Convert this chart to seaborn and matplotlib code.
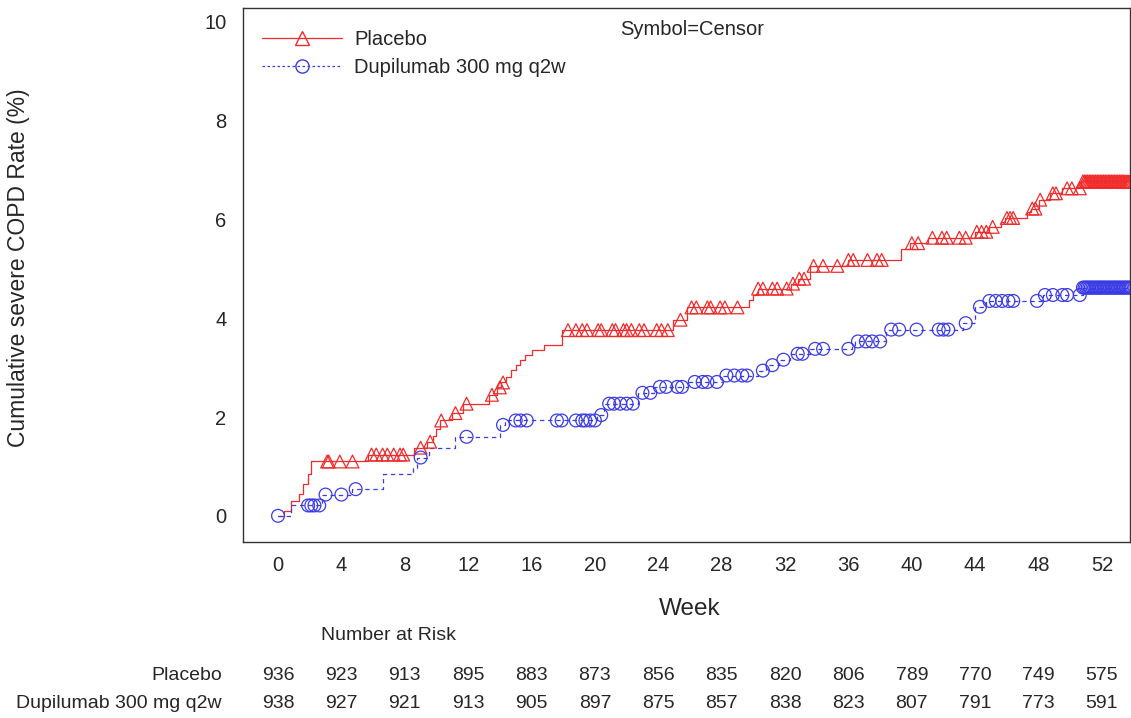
import numpy as np
import pandas as pd
import matplotlib
matplotlib.use("Agg")
import matplotlib.pyplot as plt
from matplotlib.lines import Line2D
import matplotlib.transforms as mtransforms
import seaborn as sns

# ---- Cumulative incidence step curves (week, cumulative %) ----
placebo_weeks = [0.0, 0.4, 0.8, 1.3, 1.6, 1.9, 2.1, 5.7, 8.6, 9.4, 9.8, 10.0, 10.2,
                 11.0, 11.7, 13.3, 13.8, 14.1, 14.4, 14.7, 15.0, 15.3, 15.6, 16.0,
                 16.8, 17.9, 24.9, 25.8, 29.7, 30.0, 30.3, 32.4, 32.8, 33.6, 36.0,
                 39.3, 39.9, 41.0, 44.0, 44.9, 45.6, 45.9, 47.3, 47.5, 48.0, 48.7,
                 49.5, 50.7, 53.8]
placebo_rate = [0.0, 0.1, 0.3, 0.45, 0.65, 0.85, 1.1, 1.24, 1.38, 1.5, 1.62, 1.75, 1.93,
                2.08, 2.27, 2.45, 2.6, 2.7, 2.82, 2.96, 3.06, 3.16, 3.26, 3.36,
                3.46, 3.76, 3.97, 4.22, 4.37, 4.48, 4.6, 4.7, 4.8, 5.06, 5.18,
                5.4, 5.52, 5.63, 5.75, 5.85, 5.95, 6.03, 6.15, 6.22, 6.4, 6.53,
                6.63, 6.77, 6.77]

dupi_weeks = [0.0, 0.8, 2.8, 4.7, 6.6, 8.5, 8.8, 9.5, 11.2, 14.0, 14.3, 20.1, 20.6,
              22.7, 23.7, 25.9, 28.1, 30.3, 30.8, 31.6, 32.3, 33.6, 36.2, 36.4,
              38.4, 43.2, 44.0, 44.7, 48.3, 50.8, 53.8]
dupi_rate = [0.0, 0.21, 0.43, 0.54, 0.85, 0.97, 1.18, 1.38, 1.6, 1.84, 1.93, 2.04, 2.27,
             2.49, 2.61, 2.71, 2.84, 2.94, 3.05, 3.16, 3.28, 3.38, 3.46, 3.53,
             3.77, 3.9, 4.23, 4.35, 4.47, 4.62, 4.62]

# ---- Censoring times (weeks) ----
placebo_censor = [3.1, 3.2, 3.9, 4.7, 5.9, 6.2, 6.6, 6.9, 7.3, 7.7, 7.9, 9.0, 9.6,
                  10.3, 11.2, 11.9, 13.5, 14.0, 14.2, 18.3, 18.8, 19.2, 19.5, 20.2,
                  20.4, 21.1, 21.3, 21.8, 22.0, 22.3, 22.8, 23.1, 23.9, 24.2, 24.6,
                  25.4, 26.1, 26.4, 27.1, 27.3, 27.9, 28.2, 29.0, 30.3, 30.6, 31.2,
                  31.5, 32.1, 32.5, 32.9, 33.2, 33.8, 34.4, 35.3, 36.0, 36.3, 37.2,
                  37.8, 38.1, 40.0, 40.4, 41.3, 41.9, 42.2, 43.0, 43.4, 44.1, 44.4,
                  44.7, 45.1, 46.0, 46.2, 46.4, 47.6, 47.8, 48.1, 48.9, 49.1, 49.8,
                  50.1, 50.6, 50.8, 50.9, 51.0, 51.1, 51.2, 51.3, 51.4, 51.5, 51.6,
                  51.7, 51.8, 51.9, 52.0, 52.1, 52.2, 52.3, 52.4, 52.5, 52.6, 52.7,
                  52.8, 52.9, 53.0, 53.1, 53.2, 53.3, 53.4, 53.5, 53.6, 53.7, 53.8]
dupi_censor = [0.0, 1.9, 2.1, 2.3, 2.6, 3.0, 4.0, 4.9, 9.0, 11.9, 14.2, 15.0, 15.3,
               15.7, 17.6, 17.9, 18.8, 19.2, 19.4, 19.7, 20.0, 20.4, 20.9, 21.2,
               21.6, 22.0, 22.4, 23.0, 23.5, 24.1, 24.5, 25.2, 25.5, 26.3, 26.8,
               27.1, 27.7, 28.3, 28.8, 29.3, 29.6, 30.6, 31.2, 31.9, 32.8, 33.1,
               33.9, 34.4, 36.0, 36.6, 37.1, 37.5, 38.0, 38.7, 39.2, 40.3, 41.7,
               42.0, 42.3, 43.4, 44.3, 44.9, 45.3, 45.7, 46.1, 46.4, 47.9, 48.4,
               48.9, 49.5, 49.8, 50.6, 50.8, 50.9, 51.0, 51.1, 51.2, 51.3, 51.4,
               51.5, 51.6, 51.7, 51.8, 51.9, 52.0, 52.1, 52.2, 52.3, 52.4, 52.5,
               52.6, 52.7, 52.8, 52.9, 53.0, 53.1, 53.2, 53.3, 53.4, 53.5, 53.6,
               53.7, 53.8]

# ---- Number at risk ----
risk_weeks = [0, 4, 8, 12, 16, 20, 24, 28, 32, 36, 40, 44, 48, 52]
placebo_risk = [936, 923, 913, 895, 883, 873, 856, 835, 820, 806, 789, 770, 749, 575]
dupi_risk = [938, 927, 921, 913, 905, 897, 875, 857, 838, 823, 807, 791, 773, 591]

groups = ["Placebo", "Dupilumab 300 mg q2w"]
colors = {"Placebo": "#f22a2a", "Dupilumab 300 mg q2w": "#3b3be6"}

sns.set_style("white")
plt.rcParams["font.family"] = ["Liberation Sans", "DejaVu Sans"]
plt.rcParams["font.size"] = 14.5


def censor_frame(times, vals, censor, name):
    t = np.asarray(times)
    v = np.asarray(vals)
    idx = np.searchsorted(t, censor, side="right") - 1
    return pd.DataFrame({"week": censor, "rate": v[idx], "group": name})


curves = pd.concat([
    pd.DataFrame({"week": placebo_weeks, "rate": placebo_rate, "group": groups[0]}),
    pd.DataFrame({"week": dupi_weeks, "rate": dupi_rate, "group": groups[1]}),
])
censors = pd.concat([
    censor_frame(placebo_weeks, placebo_rate, placebo_censor, groups[0]),
    censor_frame(dupi_weeks, dupi_rate, dupi_censor, groups[1]),
])

fig = plt.figure(figsize=(11.31, 7.18), dpi=100)
ax = fig.add_axes([243 / 1131, 1 - 542 / 718, (1130 - 243) / 1131, (542 - 8) / 718])

sns.lineplot(data=curves[curves.group == groups[0]], x="week", y="rate", ax=ax,
             color=colors[groups[0]], drawstyle="steps-post", linewidth=0.9,
             estimator=None, sort=False)
sns.lineplot(data=curves[curves.group == groups[1]], x="week", y="rate", ax=ax,
             color=colors[groups[1]], drawstyle="steps-post", linewidth=0.9,
             linestyle=(0, (3.5, 3)), estimator=None, sort=False)

sns.scatterplot(data=censors[censors.group == groups[0]], x="week", y="rate", ax=ax,
                marker="^", s=85, facecolors="none", edgecolor=colors[groups[0]],
                linewidth=0.9, zorder=3)
sns.scatterplot(data=censors[censors.group == groups[1]], x="week", y="rate", ax=ax,
                marker="o", s=85, facecolors="none", edgecolor=colors[groups[1]],
                linewidth=0.9, zorder=3)

ax.set_xlim(-2.21, 53.77)
ax.set_ylim(-0.53, 10.28)
ax.set_xticks(risk_weeks)
ax.set_yticks([0, 2, 4, 6, 8, 10])
ax.tick_params(axis="both", direction="out", length=7, width=0.9, color="#555555",
               labelsize=14.5)
ax.tick_params(axis="x", pad=3)
ax.tick_params(axis="y", pad=5)
for sp in ax.spines.values():
    sp.set_visible(True)
    sp.set_color("#333333")
    sp.set_linewidth(1.0)

ax.set_xlabel("Week", fontsize=17.5)
ax.xaxis.set_label_coords(0.504, -0.105)
ax.set_ylabel("Cumulative severe COPD Rate (%)", fontsize=16.5)
ax.yaxis.set_label_coords(-0.240, 0.513)

handles = [
    Line2D([], [], color=colors[groups[0]], linewidth=0.9, marker="^", markersize=9.5,
           markerfacecolor="none", markeredgecolor=colors[groups[0]]),
    Line2D([], [], color=colors[groups[1]], linewidth=0.9, linestyle=(0, (2, 2)),
           marker="o", markersize=9.5, markerfacecolor="none",
           markeredgecolor=colors[groups[1]]),
]
ax.legend(handles, groups, loc="upper left", bbox_to_anchor=(0.012, 0.974),
          frameon=False, handlelength=4.0, handletextpad=0.6, labelspacing=0.45,
          fontsize=14.5, borderaxespad=0)

ax.text(0.425, 0.959, "Symbol=Censor", transform=ax.transAxes, fontsize=14.5,
        ha="left", va="center")

# Number at risk table under the axis
trans = mtransforms.blended_transform_factory(ax.transData, fig.transFigure)
fig.text(321 / 1131, 1 - 636 / 718, "Number at Risk", fontsize=14, ha="left", va="center")
row_y = [1 - 676 / 718, 1 - 704 / 718]
for name, counts, yy in zip(groups, [placebo_risk, dupi_risk], row_y):
    fig.text(222 / 1131, yy, name, fontsize=14, ha="right", va="center")
    for wk, n in zip(risk_weeks, counts):
        ax.text(wk, yy, str(n), transform=trans, fontsize=14, ha="center", va="center",
                clip_on=False)

fig.savefig("out.png", dpi=100, facecolor="white")
